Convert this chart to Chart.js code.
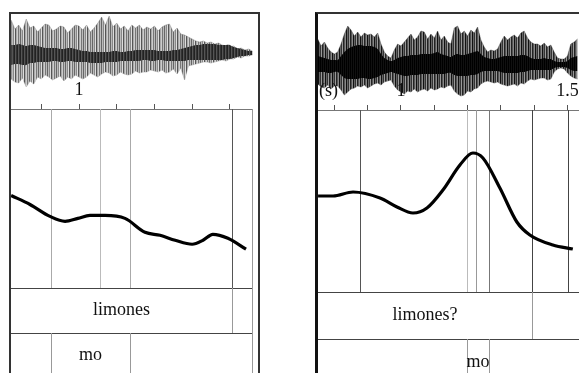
<!DOCTYPE html>
<html>
<head>
<meta charset="utf-8">
<script src="https://cdn.jsdelivr.net/npm/chart.js@4.4.1/dist/chart.umd.min.js"></script>
<style>
html, body { margin: 0; padding: 0; background: #fff; overflow: hidden; }
#stage { position: relative; width: 579px; height: 373px; overflow: hidden; }
canvas, .frame { position: absolute; }
.frame { pointer-events: none; box-sizing: border-box; }
#frameL { left: 9px; top: 12px; width: 251px; height: 420px; border: 2px solid #333; }
#frameR { left: 315px; top: 12px; width: 420px; height: 420px; border-left: 3px solid #111; border-top: 2px solid #333; }
</style>
</head>
<body>
<div id="stage">
  <canvas id="waveL" width="242" height="90" style="left:11px;top:8px"></canvas>
  <canvas id="pitchL" width="242" height="293" style="left:11px;top:80px"></canvas>
  <canvas id="waveR" width="282" height="90" style="left:318px;top:19px"></canvas>
  <canvas id="pitchR" width="282" height="293" style="left:318px;top:80px"></canvas>
  <div class="frame" id="frameL"></div>
  <div class="frame" id="frameR"></div>
</div>
<script>
// ---- left panel: "limones" (statement) ----
const leftWaveTimes = [0.82,0.83,0.84,0.85,0.86,0.87,0.88,0.89,0.90,0.91,0.92,0.93,0.94,0.95,0.96,0.97,0.98,0.99,1.00,1.01,1.02,1.03,1.04,1.05,1.06,1.07,1.08,1.09,1.10,1.11,1.12,1.13,1.14,1.15,1.16,1.17,1.18,1.19,1.20,1.21,1.22,1.23,1.24,1.25,1.26,1.27,1.28,1.29,1.30,1.31,1.32,1.33,1.34,1.35,1.36,1.37,1.38,1.39,1.40,1.41,1.42,1.43,1.44,1.45,1.46]
const leftWaveTop = [33,24,28,22,34,25,27,21,25,29,28,22,24,27,26,20,24,28,27,23,28,21,25,30,36,28,37,26,30,24,27,22,28,25,28,23,26,24,27,22,26,28,29,21,25,19,18,16,14,12,11,12,10,11,9,10,8,7,6,7,4,5,3,4,2]
const leftWaveBottom = [-26,-29,-30,-25,-34,-28,-31,-24,-26,-22,-24,-27,-25,-23,-28,-24,-26,-22,-24,-26,-24,-20,-22,-24,-21,-19,-20,-23,-22,-19,-21,-22,-21,-18,-20,-19,-19,-17,-18,-19,-17,-20,-19,-16,-21,-15,-27,-13,-12,-11,-10,-9,-9,-10,-9,-8,-7,-8,-6,-6,-4,-5,-3,-3,-2]
const leftCoreTop = [8,8,9,8,7,8,8,7,6,5,5,5,5,4,4,5,5,4,3,2,2,1,1,1,1,1,1,2,2,1,1,2,2,3,3,3,3,3,3,2,2,2,2,3,3,4,5,6,7,8,8,9,9,9,9,8,8,8,8,6,5,4,3,2,2]
const leftCoreBottom = [-12,-11,-11,-12,-12,-10,-10,-9,-9,-9,-9,-8,-8,-9,-9,-8,-8,-9,-9,-9,-9,-10,-10,-10,-10,-9,-9,-9,-9,-8,-8,-8,-8,-8,-8,-7,-7,-8,-8,-7,-7,-8,-8,-8,-8,-8,-8,-7,-7,-7,-7,-7,-7,-7,-7,-7,-7,-6,-6,-5,-4,-3,-3,-2,-2]
const leftPitchTimes = [0.820,0.870,0.923,0.963,0.997,1.029,1.069,1.122,1.175,1.215,1.255,1.300,1.329,1.355,1.395,1.443]
const leftPitch = [93,84,72,67,70,73,73,70,56,53,48,44,48,54,50,39]
const leftBounds = [0.926, 1.056, 1.135, 1.406]
const leftBoundColors = ['#aaa', '#bbb', '#aaa', '#555']
const leftTier1 = [[0.8196, 1.406, 'limones'], [1.406, 1.4615, '']]
const leftTier2 = [[0.8196, 0.926, ''], [0.926, 1.135, 'mo'], [1.135, 1.4615, '']]

// ---- right panel: "limones?" (question) ----
const rightWaveTimes = [0.75,0.76,0.77,0.78,0.79,0.80,0.81,0.82,0.83,0.84,0.85,0.86,0.87,0.88,0.89,0.90,0.91,0.92,0.93,0.94,0.95,0.96,0.97,0.98,0.99,1.00,1.01,1.02,1.03,1.04,1.05,1.06,1.07,1.08,1.09,1.10,1.11,1.12,1.13,1.14,1.15,1.16,1.17,1.18,1.19,1.20,1.21,1.22,1.23,1.24,1.25,1.26,1.27,1.28,1.29,1.30,1.31,1.32,1.33,1.34,1.35,1.36,1.37,1.38,1.39,1.40,1.41,1.42,1.43,1.44,1.45,1.46,1.47,1.48,1.49,1.50,1.51,1.52,1.53]
const rightWaveTop = [25,18,22,16,12,10,12,20,30,38,34,28,32,27,31,29,30,27,31,20,12,8,6,14,20,18,22,26,30,24,27,33,32,25,30,26,33,24,28,22,20,36,38,30,33,28,34,31,37,24,17,12,14,13,15,22,28,24,27,29,26,31,33,26,22,20,20,18,21,17,19,12,6,5,5,8,20,22,25]
const rightWaveBottom = [-20,-23,-24,-21,-25,-22,-22,-26,-31,-28,-25,-24,-22,-23,-21,-24,-22,-20,-19,-21,-18,-17,-16,-22,-26,-28,-30,-27,-28,-25,-28,-26,-25,-27,-24,-26,-25,-23,-24,-22,-21,-27,-30,-32,-31,-27,-28,-25,-24,-20,-18,-17,-18,-19,-18,-20,-21,-22,-21,-20,-22,-19,-20,-17,-15,-16,-15,-14,-14,-16,-15,-8,-5,-4,-5,-9,-12,-14,-15]
const rightCoreTop = [8,7,6,5,4,4,4,8,12,15,17,18,19,19,18,18,18,17,15,10,6,4,3,4,6,7,8,8,9,9,9,10,10,10,10,11,12,10,9,8,7,9,10,9,9,10,11,12,13,10,7,6,5,5,6,7,8,8,8,8,8,9,9,8,6,5,5,5,6,5,5,3,2,2,2,3,6,7,8]
const rightCoreBottom = [-8,-8,-8,-9,-9,-8,-8,-11,-14,-15,-15,-15,-15,-14,-14,-15,-15,-14,-13,-11,-10,-9,-8,-9,-10,-11,-12,-12,-11,-11,-11,-10,-10,-10,-10,-10,-10,-10,-10,-9,-9,-11,-12,-12,-12,-12,-11,-11,-10,-8,-7,-7,-7,-7,-7,-8,-9,-9,-9,-9,-9,-8,-8,-7,-6,-6,-6,-6,-6,-6,-6,-4,-3,-3,-3,-4,-6,-7,-7]
const rightPitchTimes = [0.751,0.796,0.856,0.937,0.988,1.036,1.078,1.126,1.177,1.216,1.246,1.297,1.348,1.387,1.456,1.516]
const rightPitch = [96,96,100,94,85,79,84,102,127,139,134,104,70,57,47,43]
const rightBounds = [0.877, 1.198, 1.225, 1.264, 1.393, 1.502]
const rightBoundColors = ['#555', '#bbb', '#999', '#777', '#444', '#444']
const rightTier1 = [[0.7508, 1.393, 'limones?'], [1.393, 1.5976, '']]
const rightTier2 = [[0.7508, 1.198, ''], [1.198, 1.264, 'mo'], [1.264, 1.5976, '']]

const serif = 'Liberation Serif'

function stripes(colors) {
    const c = document.createElement('canvas')
    c.width = colors.length
    c.height = 1
    const g = c.getContext('2d')
    colors.forEach((col, i) => { g.fillStyle = col; g.fillRect(i, 0, 1, 1) })
    return g.createPattern(c, 'repeat')
}

function pts(xs, ys) {
    return xs.map((x, i) => ({ x: x, y: ys[i] }))
}

// filler paints the last dataset first, so the dark core goes in front (index 0)
function waveChart(id, times, top, bottom, coreTop, coreBottom, xmin, xmax, shade, edge, core) {
    const ctx = document.getElementById(id)
    new Chart(ctx, {
        type: 'line',
        data: {
            datasets: [
                { data: pts(times, coreTop), fill: '+1', backgroundColor: stripes(core), borderWidth: 0, pointRadius: 0, tension: 0.3 },
                { data: pts(times, coreBottom), fill: false, borderWidth: 0, pointRadius: 0, tension: 0.3 },
                { data: pts(times, top), fill: '+1', backgroundColor: stripes(shade), borderColor: edge, borderWidth: 0.6, pointRadius: 0, tension: 0 },
                { data: pts(times, bottom), fill: false, borderColor: edge, borderWidth: 0.6, pointRadius: 0, tension: 0 }
            ]
        },
        options: {
            responsive: false,
            animation: false,
            layout: { padding: 0 },
            plugins: { legend: { display: false }, tooltip: { enabled: false } },
            scales: {
                x: { type: 'linear', min: xmin, max: xmax, display: false },
                y: { min: -45, max: 45, display: false }
            }
        }
    })
}

function praatMarks(bounds, boundColors, tiers, tierHeights, extra) {
    return {
        id: 'praatMarks',
        beforeDatasetsDraw(chart) {
            const g = chart.ctx
            const a = chart.chartArea
            const x = chart.scales.x
            g.save()
            g.lineWidth = 1
            bounds.forEach((b, i) => {
                const px = Math.round(x.getPixelForValue(b)) + 0.5
                g.strokeStyle = boundColors[i]
                g.beginPath(); g.moveTo(px, a.top); g.lineTo(px, a.bottom); g.stroke()
            })
            g.restore()
        },
        afterDraw(chart) {
            const g = chart.ctx
            const a = chart.chartArea
            const x = chart.scales.x
            g.save()
            let y0 = a.bottom
            tiers.forEach((tier, ti) => {
                const h = tierHeights[ti]
                g.strokeStyle = '#444'
                g.lineWidth = 1.2
                g.beginPath(); g.moveTo(a.left, y0 + 0.5); g.lineTo(a.right, y0 + 0.5); g.stroke()
                tier.forEach(([s, e, label], k) => {
                    if (k > 0) {
                        const px = Math.round(x.getPixelForValue(s)) + 0.5
                        g.strokeStyle = '#999'
                        g.lineWidth = 1
                        g.beginPath(); g.moveTo(px, y0); g.lineTo(px, y0 + h); g.stroke()
                    }
                    if (label) {
                        const cx = (x.getPixelForValue(s) + x.getPixelForValue(e)) / 2
                        g.fillStyle = '#111'
                        g.font = '18px "' + serif + '"'
                        g.textAlign = 'center'
                        g.textBaseline = 'middle'
                        g.fillText(label, cx, y0 + h / 2)
                    }
                })
                y0 += h
            })
            if (extra.rightEdge) {
                g.strokeStyle = '#999'
                g.lineWidth = 1
                g.beginPath(); g.moveTo(a.right - 0.5, a.top); g.lineTo(a.right - 0.5, chart.height); g.stroke()
            }
            if (extra.unit) {
                g.fillStyle = '#111'
                g.font = '18px "' + serif + '"'
                g.textAlign = 'left'
                g.textBaseline = 'bottom'
                g.fillText(extra.unit, a.left + 1, a.top - 10)
            }
            g.restore()
        }
    }
}

function pitchChart(id, times, values, xmin, xmax, ymax, axisH, padBottom, plugin) {
    const ctx = document.getElementById(id)
    new Chart(ctx, {
        type: 'line',
        data: {
            datasets: [{
                data: pts(times, values),
                borderColor: '#000',
                borderWidth: 3.2,
                pointRadius: 0,
                cubicInterpolationMode: 'monotone',
                fill: false
            }]
        },
        options: {
            responsive: false,
            animation: false,
            layout: { padding: { top: 0, left: 0, right: 0, bottom: padBottom } },
            plugins: { legend: { display: false }, tooltip: { enabled: false } },
            scales: {
                x: {
                    type: 'linear',
                    position: 'top',
                    min: xmin,
                    max: xmax,
                    afterFit: s => { s.height = axisH },
                    border: { display: true, color: '#777', width: 1 },
                    grid: { drawOnChartArea: false, drawTicks: true, tickLength: 5, color: '#555' },
                    ticks: {
                        stepSize: 0.1,
                        includeBounds: false,
                        autoSkip: false,
                        maxRotation: 0,
                        padding: 3,
                        color: '#111',
                        font: { family: serif, size: 18 },
                        callback: v => {
                            if (Math.abs(v - 1) < 1e-6) return '1'
                            if (Math.abs(v - 1.5) < 1e-6) return '1.5'
                            return ''
                        }
                    }
                },
                y: { display: false, min: 0, max: ymax }
            }
        },
        plugins: [plugin]
    })
}

waveChart('waveL', leftWaveTimes, leftWaveTop, leftWaveBottom, leftCoreTop, leftCoreBottom, 0.8196, 1.4615,
    ['#666', '#bbb', '#888', '#ddd', '#555', '#aaa', '#ccc', '#777', '#bbb'], 'rgba(90,90,90,0.5)', ['#222', '#555', '#333'])
waveChart('waveR', rightWaveTimes, rightWaveTop, rightWaveBottom, rightCoreTop, rightCoreBottom, 0.7508, 1.5976,
    ['#111', '#666', '#333', '#999', '#222', '#555', '#888'], 'rgba(40,40,40,0.6)', ['#000', '#111'])

pitchChart('pitchL', leftPitchTimes, leftPitch, 0.8196, 1.4615, 180, 29, 85,
    praatMarks(leftBounds, leftBoundColors, [leftTier1, leftTier2], [45, 45], { rightEdge: true }))
pitchChart('pitchR', rightPitchTimes, rightPitch, 0.7508, 1.5976, 182, 30, 81,
    praatMarks(rightBounds, rightBoundColors, [rightTier1, rightTier2], [47, 47], { unit: '(s)' }))
</script>
</body>
</html>
